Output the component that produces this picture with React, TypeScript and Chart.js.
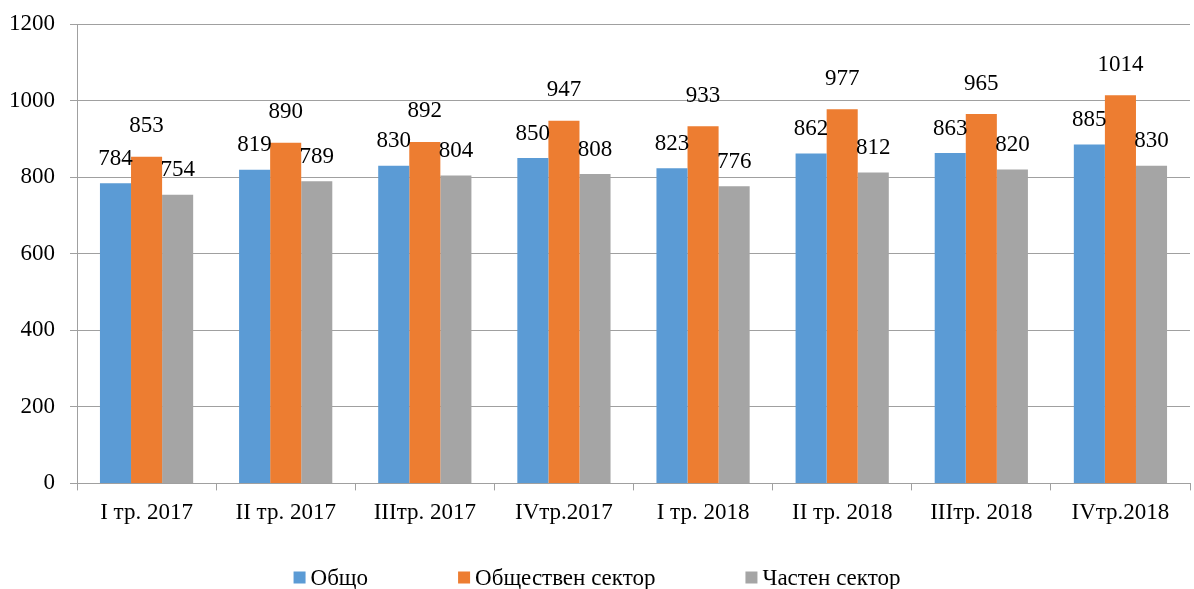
import React, { useEffect, useRef } from "react";
import { Chart, registerables } from "chart.js";

Chart.register(...registerables);

const categories = ["I тр. 2017", "II тр. 2017", "IIIтр. 2017", "IVтр.2017", "I тр. 2018", "II тр. 2018", "IIIтр. 2018", "IVтр.2018"];
const seriesNames = ["Общо", "Обществен сектор", "Частен сектор"];
const total = [784, 819, 830, 850, 823, 862, 863, 885];
const publicSector = [853, 890, 892, 947, 933, 977, 965, 1014];
const privateSector = [754, 789, 804, 808, 776, 812, 820, 830];
const colors = ["#5B9BD5", "#ED7D31", "#A5A5A5"];
const labelOffsets = [13, 19, 13];

const FONT = "'Liberation Serif', 'Times New Roman', serif";
const FS = 23;

const dataLabelPlugin = {
  id: "dataLabels",
  afterDatasetsDraw(chart: any) {
    const ctx = chart.ctx;
    ctx.save();
    ctx.font = `${FS}px ${FONT}`;
    ctx.fillStyle = "#000";
    ctx.textAlign = "center";
    ctx.textBaseline = "bottom";
    chart.data.datasets.forEach((ds: any, i: number) => {
      const meta = chart.getDatasetMeta(i);
      meta.data.forEach((el: any, j: number) => {
        ctx.fillText(String(ds.data[j]), el.x, el.y - labelOffsets[i]);
      });
    });
    ctx.restore();
  },
};

const legendPlugin = {
  id: "customLegend",
  afterDraw(chart: any) {
    const ctx = chart.ctx;
    ctx.save();
    ctx.font = `${FS}px ${FONT}`;
    ctx.textBaseline = "middle";
    ctx.textAlign = "left";
    const box = 12;
    const boxGap = 5;
    const gap = 90;
    const items = chart.data.datasets.map((ds: any) => ({
      label: ds.label,
      color: ds.backgroundColor,
      w: box + boxGap + ctx.measureText(ds.label).width,
    }));
    const totalW = items.reduce((s: number, it: any) => s + it.w, 0) + gap * (items.length - 1);
    let x = (chart.width - totalW) / 2;
    const cy = 577.5;
    items.forEach((it: any) => {
      ctx.fillStyle = it.color;
      ctx.fillRect(x, cy - box / 2, box, box);
      ctx.fillStyle = "#000";
      ctx.fillText(it.label, x + box + boxGap, cy + 1);
      x += it.w + gap;
    });
    ctx.restore();
  },
};

export default function App() {
  const ref = useRef<HTMLCanvasElement>(null);
  useEffect(() => {
    document.body.style.margin = "0";
    const chart = new Chart(ref.current!, {
      type: "bar",
      data: {
        labels: categories,
        datasets: [total, publicSector, privateSector].map((d, i) => ({
          label: seriesNames[i],
          data: d,
          backgroundColor: colors[i],
          borderWidth: 0,
          categoryPercentage: 0.67,
          barPercentage: 1,
        })),
      },
      options: {
        animation: false,
        responsive: false,
        maintainAspectRatio: false,
        layout: { padding: { top: 24, right: 4, bottom: 53, left: 0 } },
        plugins: { legend: { display: false }, tooltip: { enabled: false } },
        scales: {
          x: {
            grid: { drawOnChartArea: false, drawTicks: true, tickLength: 7, color: "#A0A0A0", offset: true },
            border: { color: "#A0A0A0", width: 1 },
            ticks: { font: { family: FONT, size: FS }, color: "#000", padding: 9, maxRotation: 0 },
          },
          y: {
            min: 0,
            max: 1200,
            afterFit: (s: any) => { s.width = 77; s.paddingTop = 0; s.paddingBottom = 0; },
            grid: { color: "#A0A0A0", tickLength: 7 },
            border: { color: "#A0A0A0", width: 1 },
            ticks: {
              stepSize: 200,
              font: { family: FONT, size: FS, lineHeight: 0.4 },
              color: "#000",
              padding: 15,
              callback: (v: any) => String(v),
            },
          },
        },
      },
      plugins: [dataLabelPlugin, legendPlugin],
    });
    return () => chart.destroy();
  }, []);
  return <canvas ref={ref} width={1194} height={589} style={{ display: "block" }} />;
}
